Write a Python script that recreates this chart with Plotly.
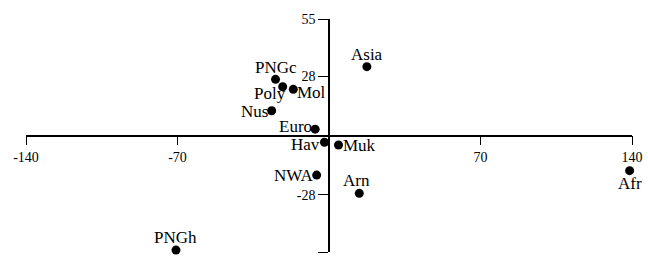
import plotly.graph_objects as go

labels = ["Asia", "PNGc", "Poly", "Mol", "Nus", "Euro", "Hav", "Muk", "NWA", "Arn", "Afr", "PNGh"]
x_vals = [17.5, -24.7, -21.4, -16.5, -26.5, -6.4, -2.1, 4.4, -5.7, 14.0, 138.9, -70.7]
y_vals = [32.5, 26.5, 23.0, 21.8, 11.7, 3.0, -3.2, -4.5, -18.7, -27.3, -16.6, -54.1]
x_ticks = [-140, -70, 70, 140]
y_ticks = [-55, -28, 28, 55]

# label placement (style): xanchor, yanchor, xshift, yshift
place = {
    "Asia": ("center", "bottom", 0, 1),
    "PNGc": ("center", "bottom", 0, 0),
    "Poly": ("right", "top", 5, 5),
    "Mol": ("left", "middle", 2, -3),
    "Nus": ("right", "middle", -2, -1),
    "Euro": ("right", "middle", -1, 3),
    "Hav": ("right", "middle", -2, -2),
    "Muk": ("left", "middle", 2, 0),
    "NWA": ("right", "middle", -2, 0),
    "Arn": ("center", "bottom", -3, 1),
    "Afr": ("center", "top", 0, -1),
    "PNGh": ("center", "bottom", 0, 1),
}

font_family = "Liberation Serif, Times New Roman, serif"

fig = go.Figure()
fig.add_trace(go.Scatter(
    x=x_vals, y=y_vals, mode="markers",
    marker=dict(size=9, color="black"),
    cliponaxis=False, hoverinfo="skip", showlegend=False,
))

annotations = []
for lab, xv, yv in zip(labels, x_vals, y_vals):
    xa, ya, xs, ys = place[lab]
    annotations.append(dict(
        x=xv, y=yv, xref="x", yref="y", text=lab, showarrow=False,
        xanchor=xa, yanchor=ya, xshift=xs, yshift=ys,
        font=dict(family=font_family, size=17, color="black"),
    ))

fig.update_layout(
    width=648, height=259,
    margin=dict(l=26, r=16, t=19, b=7, autoexpand=False),
    paper_bgcolor="white", plot_bgcolor="white",
    annotations=annotations,
    font=dict(family=font_family, color="black"),
    xaxis=dict(
        range=[-140, 140], anchor="free", position=0.5, automargin=False,
        showgrid=False, zeroline=False, showline=True, linecolor="black", linewidth=1.5,
        tickvals=x_ticks, ticktext=[str(t) for t in x_ticks],
        ticks="outside", ticklen=9, tickwidth=1.2, tickcolor="black",
        tickfont=dict(family=font_family, size=14, color="black"),
    ),
    yaxis=dict(
        range=[-55, 55], anchor="free", position=0.5, automargin=False,
        showgrid=False, zeroline=False, showline=True, linecolor="black", linewidth=1.5,
        tickvals=y_ticks, ticktext=[str(t) for t in y_ticks],
        ticks="outside", ticklen=10, tickwidth=1.2, tickcolor="black",
        tickfont=dict(family=font_family, size=14, color="black"),
    ),
)

fig.write_html("out.html", config={"displayModeBar": False},
               post_script="document.body.style.margin='0';")
